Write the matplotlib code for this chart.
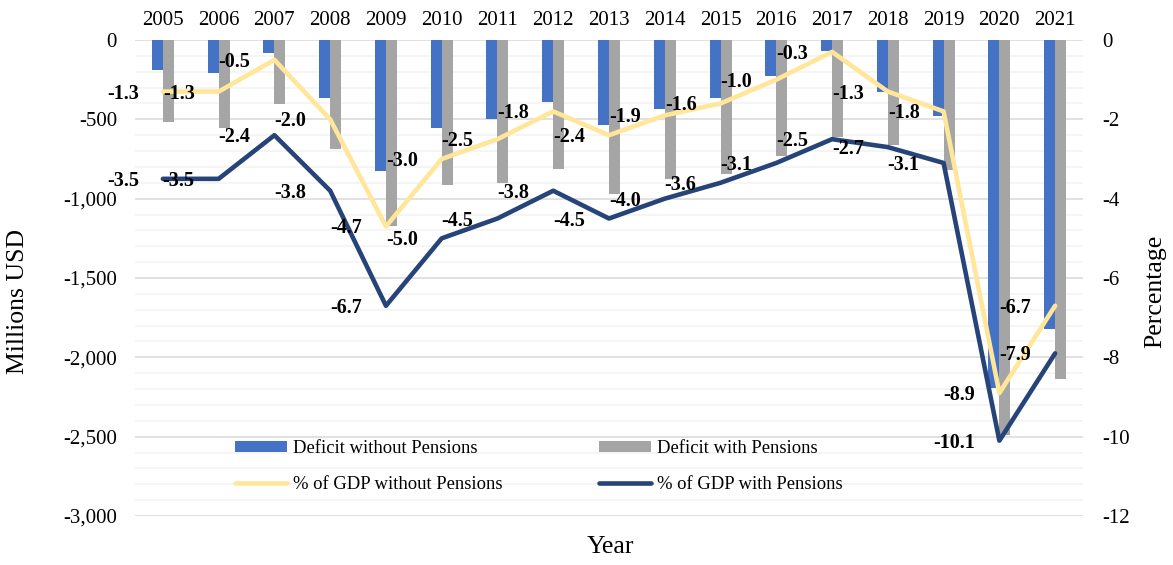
import matplotlib
matplotlib.use("Agg")
import matplotlib.pyplot as plt
from matplotlib.ticker import FuncFormatter, MultipleLocator

plt.rcParams['font.family'] = ['Liberation Serif', 'DejaVu Serif']
plt.rcParams['axes.unicode_minus'] = False

years = [str(y) for y in range(2005, 2022)]
deficit_without = [-189, -206, -84, -363, -823, -557, -498, -391, -536, -437, -363, -227, -69, -326, -477, -2195, -1823]
deficit_with = [-517, -552, -405, -685, -1172, -914, -899, -811, -970, -876, -845, -731, -609, -662, -819, -2489, -2136]
pct_without = [-1.3, -1.3, -0.5, -2.0, -4.7, -3.0, -2.5, -1.8, -2.4, -1.9, -1.6, -1.0, -0.3, -1.3, -1.8, -8.9, -6.7]
pct_with = [-3.5, -3.5, -2.4, -3.8, -6.7, -5.0, -4.5, -3.8, -4.5, -4.0, -3.6, -3.1, -2.5, -2.7, -3.1, -10.1, -7.9]

C_BLUE = '#4472C4'
C_GREY = '#A5A5A5'
C_YELLOW = '#FFE699'
C_NAVY = '#264478'

W, H = 1173, 565
fig = plt.figure(figsize=(W / 100, H / 100), dpi=100)
ax = fig.add_axes([135 / W, 1 - 516 / H, (1083 - 135) / W, (516 - 40) / H])

x = list(range(len(years)))
bw = 0.197
b1 = ax.bar([i - bw / 2 for i in x], deficit_without, width=bw, color=C_BLUE, label='Deficit without Pensions', zorder=2)
b2 = ax.bar([i + bw / 2 for i in x], deficit_with, width=bw, color=C_GREY, label='Deficit with Pensions', zorder=2)

ax.set_xlim(-0.5, len(years) - 0.5)
ax.set_ylim(-3000, 0)
ax.yaxis.set_major_locator(MultipleLocator(500))
ax.yaxis.set_minor_locator(MultipleLocator(100))
ax.yaxis.set_major_formatter(FuncFormatter(lambda v, p: f"{int(v):,}"))
ax.grid(axis='y', which='major', color='#D9D9D9', linewidth=1.1, zorder=0)
ax.grid(axis='y', which='minor', color='#F2F2F2', linewidth=1.1, zorder=0)
ax.set_axisbelow(True)
for s in ax.spines.values():
    s.set_visible(False)
ax.xaxis.tick_top()
ax.set_xticks(x)
ax.set_xticklabels(years, fontsize=15)
ax.tick_params(axis='x', length=0, pad=7)
ax.tick_params(axis='y', which='both', length=0, pad=13, labelsize=15)

ax2 = ax.twinx()
ax2.set_ylim(-12, 0)
ax2.set_yticks(range(-12, 1, 2))
ax2.set_yticklabels([str(v) for v in range(-12, 1, 2)])
ax2.tick_params(axis='y', length=0, pad=14, labelsize=15)
for s in ax2.spines.values():
    s.set_visible(False)

l1, = ax2.plot(x, pct_without, color=C_YELLOW, linewidth=3.3, solid_capstyle='round', solid_joinstyle='round',
               label='% of GDP without Pensions', zorder=3)
l2, = ax2.plot(x, pct_with, color=C_NAVY, linewidth=3.3, solid_capstyle='round', solid_joinstyle='round',
               label='% of GDP with Pensions', zorder=4)

for series in (pct_without, pct_with):
    for i, v in zip(x, series):
        ax2.annotate(f"{v:.1f}", (i, v), xytext=(-24, -2), textcoords='offset pixels',
                     ha='right', va='center', fontsize=14.5, fontweight='bold', color='black', zorder=5)

fig.legend([b1, l1, b2, l2],
           ['Deficit without Pensions', '% of GDP without Pensions', 'Deficit with Pensions', '% of GDP with Pensions'],
           ncol=2, loc='upper left', bbox_to_anchor=(235 / W, 1 - 440 / H), frameon=False,
           fontsize=13.4, handlelength=2.8, handleheight=0.55, handletextpad=0.32, columnspacing=5.2,
           labelspacing=1.0, borderpad=0, borderaxespad=0)

fig.text(610 / W, 1 - 547 / H, 'Year', ha='center', va='center', fontsize=18.5)
fig.text(18 / W, 1 - 302 / H, 'Millions USD', ha='center', va='center', rotation=90, fontsize=18.5)
fig.text(1155 / W, 1 - 291 / H, 'Percentage', ha='center', va='center', rotation=90, fontsize=18.5)

fig.savefig('out.png', dpi=100)
